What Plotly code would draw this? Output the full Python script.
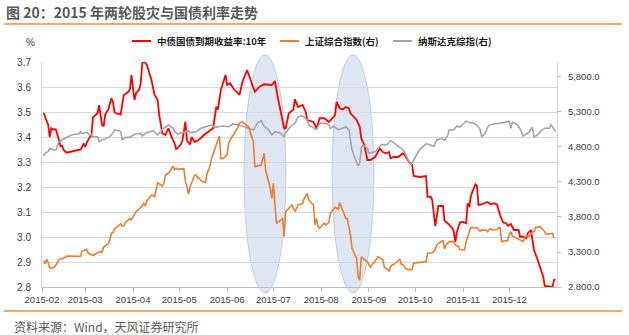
import plotly.graph_objects as go

# ---------------- data ----------------
red_dates = ["02-02","02-03","02-04","02-05","02-06","02-07","02-08","02-10","02-12","02-13","02-14","02-15","02-17","02-19","02-22","02-26","02-27","02-28",
             "03-01","03-02","03-04","03-05","03-06","03-08","03-09","03-10","03-11","03-12","03-13","03-14","03-16","03-17","03-18","03-19","03-20","03-21","03-24","03-26","03-29","03-30","03-31",
             "04-01","04-02","04-03","04-05","04-06","04-07","04-08","04-10","04-13","04-15","04-17","04-18","04-20","04-22","04-24","04-26","04-28","04-29",
             "05-02","05-03","05-05","05-06","05-08","05-09","05-11","05-14","05-17","05-20","05-23","05-25","05-26","05-28","05-30","05-31",
             "06-01","06-03","06-05","06-07","06-09","06-11","06-12","06-14","06-17","06-19","06-22","06-25","06-30",
             "07-02","07-04","07-06","07-08","07-09","07-11","07-14","07-15","07-17","07-20","07-22","07-23","07-27","07-29","07-31",
             "08-03","08-06","08-08","08-10","08-11","08-13","08-15","08-17","08-19","08-20","08-24","08-26","08-27","08-29","08-31",
             "09-02","09-05","09-07","09-08","09-10","09-12","09-14","09-15","09-17","09-20","09-22","09-23","09-25","09-27","09-29","09-30",
             "10-04","10-08","10-09","10-11","10-12","10-14","10-16","10-19","10-20","10-22","10-25","10-26","10-27","10-28","10-30",
             "11-01","11-03","11-04","11-05","11-06","11-07","11-09","11-10","11-11","11-13","11-15","11-17","11-19","11-21","11-23","11-25","11-27","11-29","11-30",
             "12-02","12-04","12-07","12-08","12-10","12-12","12-13","12-15","12-16","12-17","12-19","12-21","12-23","12-24","12-27","12-29","12-30","12-31"]
red_vals = [3.497,3.48,3.46,3.448,3.40,3.435,3.43,3.43,3.388,3.364,3.365,3.348,3.337,3.34,3.342,3.35,3.36,3.375,
            3.36,3.377,3.40,3.405,3.478,3.49,3.495,3.527,3.476,3.447,3.445,3.49,3.51,3.535,3.555,3.54,3.50,3.495,3.49,3.568,3.581,3.59,3.648,
            3.595,3.548,3.575,3.59,3.615,3.695,3.704,3.688,3.628,3.568,3.548,3.488,3.415,3.408,3.435,3.40,3.375,3.35,
            3.37,3.385,3.461,3.385,3.37,3.40,3.38,3.39,3.408,3.421,3.435,3.521,3.51,3.588,3.628,3.648,
            3.608,3.615,3.595,3.58,3.568,3.621,3.635,3.668,3.615,3.581,3.601,3.611,3.608,
            3.624,3.555,3.501,3.435,3.435,3.495,3.51,3.551,3.52,3.528,3.50,3.468,3.46,3.435,3.475,
            3.475,3.46,3.475,3.488,3.541,3.515,3.51,3.52,3.515,3.495,3.468,3.441,3.395,3.368,3.308,
            3.308,3.32,3.341,3.355,3.34,3.335,3.34,3.315,3.32,3.32,3.33,3.335,3.32,3.30,3.288,3.244,
            3.24,3.244,3.161,3.161,3.148,3.044,3.124,3.124,3.065,3.055,3.035,3.021,2.981,3.02,3.059,
            3.06,3.055,3.135,3.12,3.161,3.18,3.211,3.205,3.128,3.13,3.135,3.14,3.13,3.135,3.13,3.088,3.058,3.055,3.045,
            3.052,3.028,3.028,3.001,3.001,2.995,3.015,3.028,2.995,2.948,2.915,2.881,2.841,2.804,2.80,2.80,2.828,2.83]

sse_dates = ["02-02","02-03","02-04","02-05","02-06","02-09","02-10","02-12","02-13","02-16","02-17","02-25","02-26","02-27",
             "03-02","03-03","03-05","03-06","03-09","03-10","03-11","03-12","03-13","03-16","03-17","03-18","03-19","03-20","03-23","03-24","03-25","03-26","03-27","03-30","03-31",
             "04-01","04-02","04-03","04-07","04-08","04-09","04-10","04-13","04-14","04-15","04-16","04-17","04-20","04-21","04-22","04-23","04-24","04-27","04-28","04-29","04-30",
             "05-04","05-05","05-06","05-07","05-08","05-11","05-12","05-13","05-14","05-15","05-18","05-19","05-20","05-21","05-22","05-25","05-26","05-27","05-28","05-29",
             "06-01","06-02","06-03","06-05","06-08","06-09","06-11","06-12","06-15","06-16","06-17","06-18","06-19","06-23","06-24","06-25","06-26","06-29","06-30",
             "07-01","07-02","07-03","07-06","07-07","07-08","07-09","07-10","07-13","07-15","07-17","07-20","07-21","07-23","07-24","07-27","07-28","07-29","07-30","07-31",
             "08-03","08-04","08-06","08-07","08-10","08-12","08-13","08-17","08-18","08-19","08-20","08-21","08-24","08-25","08-26","08-27","08-28","08-31",
             "09-02","09-07","09-09","09-10","09-11","09-14","09-15","09-16","09-17","09-18","09-21","09-22","09-23","09-24","09-25","09-28","09-29","09-30",
             "10-08","10-09","10-12","10-13","10-14","10-15","10-16","10-19","10-20","10-21","10-22","10-23","10-26","10-27","10-28","10-29","10-30",
             "11-02","11-03","11-04","11-05","11-06","11-09","11-10","11-11","11-12","11-13","11-16","11-17","11-18","11-19","11-20","11-23","11-24","11-25","11-26","11-27","11-30",
             "12-01","12-02","12-03","12-04","12-07","12-08","12-09","12-10","12-11","12-14","12-15","12-16","12-17","12-18","12-21","12-22","12-23","12-24","12-25","12-28","12-29","12-30","12-31"]
sse_vals = [3176,3129,3195,3153,3067,3081,3114,3190,3200,3220,3243,3233,3240,3314,
            3338,3281,3257,3250,3290,3300,3305,3300,3370,3420,3471,3570,3580,3630,3686,3700,3671,3671,3719,3781,3760,
            3800,3830,3876,3957,3995,3957,4033,4114,4110,4090,4200,4290,4243,4281,4400,4414,4424,4529,4476,4495,4481,
            4490,4305,4230,4129,4233,4400,4400,4353,4353,4319,4290,4420,4471,4530,4640,4820,4910,4957,4638,4630,
            4686,4853,4900,4971,5081,5138,5162,5138,5090,5019,4948,4876,4519,4543,4614,4710,4471,4210,4067,
            4281,3995,3710,3757,3781,3519,3876,3900,3971,3876,3971,3995,4067,4138,4043,3971,3686,3781,3662,
            3638,3710,3686,3720,3852,3938,3910,4005,3781,3776,3650,3543,3352,3210,2947,2900,3233,3210,
            3160,3081,3233,3200,3190,3080,3029,3090,3114,3120,3138,3195,3124,3120,3090,3060,3043,3050,
            3140,3162,3281,3290,3305,3338,3400,3424,3460,3345,3400,3430,3448,3448,3400,3390,3380,
            3335,3329,3448,3520,3600,3650,3645,3650,3625,3595,3615,3610,3590,3625,3630,3615,3620,3645,3645,3448,3455,
            3465,3552,3590,3530,3519,3475,3471,3455,3448,3519,3530,3552,3590,3590,3650,3662,3640,3610,3590,3552,3570,3567,3495]

ndq_dates = ["02-02","02-03","02-05","02-06","02-09","02-10","02-12","02-16","02-18","02-19","02-20","02-23","02-25","02-26","02-27",
             "03-02","03-04","03-05","03-06","03-09","03-10","03-12","03-13","03-16","03-17","03-19","03-20","03-23","03-24","03-25","03-27","03-30","03-31",
             "04-01","04-03","04-06","04-07","04-10","04-14","04-16","04-17","04-20","04-22","04-24","04-27","04-28","04-30",
             "05-04","05-07","05-08","05-12","05-15","05-19","05-22","05-24","05-26","05-29",
             "06-02","06-05","06-08","06-11","06-15","06-18","06-21","06-23","06-25","06-28","06-30",
             "07-02","07-05","07-08","07-09","07-13","07-15","07-17","07-20","07-23","07-24","07-27","07-29","07-31",
             "08-04","08-06","08-07","08-09","08-12","08-15","08-17","08-19","08-20","08-21","08-23","08-25","08-26","08-27","08-28","08-31",
             "09-01","09-05","09-07","09-09","09-11","09-13","09-15","09-17","09-20","09-22","09-24","09-26","09-28","09-30",
             "10-02","10-04","10-06","10-08","10-11","10-13","10-15","10-18","10-20","10-22","10-23","10-26","10-28","10-30",
             "11-01","11-03","11-05","11-07","11-10","11-12","11-13","11-15","11-17","11-18","11-21","11-25","11-27",
             "12-01","12-02","12-03","12-06","12-08","12-10","12-12","12-14","12-16","12-17","12-19","12-22","12-24","12-27","12-28","12-29","12-31"]
ndq_vals = [4671,4710,4733,4781,4757,4757,4876,4920,4940,4957,4971,4986,4986,5019,4990,
            5010,4965,4980,4948,4945,4876,4900,4910,4930,4948,5000,5043,5033,5019,4900,4938,4938,4960,
            4971,4985,4995,4957,5005,5033,4995,4971,5053,5090,5114,5067,5019,4986,
            5019,5033,5005,5019,5067,5100,5114,5081,5090,5100,
            5090,5129,5114,5100,5067,5043,5148,5176,5100,5043,4971,
            5019,5005,4948,5005,5114,5138,5233,5243,5186,5114,5081,5048,5138,
            5138,5114,5067,5100,5048,5067,5090,5043,4900,4757,4638,4529,4571,4781,4829,4781,
            4710,4733,4781,4838,4829,4838,4890,4862,4805,4781,4733,4638,4543,4614,
            4700,4767,4805,4845,4829,4805,4900,4924,4895,4957,5043,5048,5100,5081,
            5129,5170,5150,5148,5114,5055,4948,4983,5081,5114,5129,5138,5148,
            5165,5067,5155,5120,5060,4957,4985,5019,5081,4943,4971,5040,5067,5067,5114,5090,5019]

red_x = ["2015-" + d for d in red_dates]
sse_x = ["2015-" + d for d in sse_dates]
ndq_x = ["2015-" + d for d in ndq_dates]

name_red = "中债国债到期收益率:10年"
name_sse = "上证综合指数(右)"
name_ndq = "纳斯达克综指(右)"
title_text = "图 20：2015 年两轮股灾与国债利率走势"
source_text = "资料来源：Wind，天风证券研究所"

C_RED = "#FF0000"
C_ORA = "#ED7D31"
C_GRY = "#A5A5A5"
NUMFONT = "Liberation Sans, Arial, Noto Sans CJK SC"
CJK = "Noto Sans CJK SC, Liberation Sans"

fig = go.Figure()
fig.add_trace(go.Scatter(x=ndq_x, y=ndq_vals, name=name_ndq, yaxis="y2", mode="lines",
                         line=dict(color=C_GRY, width=1.6)))
fig.add_trace(go.Scatter(x=sse_x, y=sse_vals, name=name_sse, yaxis="y2", mode="lines",
                         line=dict(color=C_ORA, width=1.6)))
fig.add_trace(go.Scatter(x=red_x, y=red_vals, name=name_red, yaxis="y", mode="lines",
                         line=dict(color=C_RED, width=1.8)))

W, H = 629, 335
L, R, T, B = 42, 72, 62, 48
pw, ph = W - L - R, H - T - B

def px(x):
    return (x - L) / pw

def py(y):
    return (H - B - y) / ph

shapes = []
# two highlight ellipses
for x0, x1 in [(244, 286), (332, 374)]:
    shapes.append(dict(type="circle", xref="paper", yref="paper",
                       x0=px(x0), x1=px(x1), y0=py(293), y1=py(55),
                       fillcolor="rgba(180,200,225,0.45)",
                       line=dict(color="rgba(160,185,215,0.6)", width=1), layer="between"))
# header / footer rules
for yy in (24, 311):
    shapes.append(dict(type="line", xref="paper", yref="paper", x0=px(4), x1=px(622),
                       y0=py(yy), y1=py(yy), line=dict(color="#F08A3C", width=1.5)))
# legend line samples
for (a, b, c) in [(132, 151, C_RED), (280, 299, C_ORA), (393, 412, C_GRY)]:
    shapes.append(dict(type="line", xref="paper", yref="paper", x0=px(a), x1=px(b),
                       y0=py(41), y1=py(41), line=dict(color=c, width=2)))

annotations = [
    dict(text=title_text, x=px(4), y=py(12), xref="paper", yref="paper", xanchor="left",
         yanchor="middle", showarrow=False, font=dict(family=CJK, size=14, color="#595959", weight="bold")),
    dict(text="%", x=px(30), y=py(43), xref="paper", yref="paper", xanchor="center",
         yanchor="middle", showarrow=False, font=dict(family=NUMFONT, size=10, color="#404040")),
    dict(text=name_red, x=px(155), y=py(41), xref="paper", yref="paper", xanchor="left",
         yanchor="middle", showarrow=False, font=dict(family=CJK, size=9.5, color="#1a1a1a", weight="bold")),
    dict(text=name_sse, x=px(303), y=py(41), xref="paper", yref="paper", xanchor="left",
         yanchor="middle", showarrow=False, font=dict(family=CJK, size=9.5, color="#1a1a1a", weight="bold")),
    dict(text=name_ndq, x=px(416), y=py(41), xref="paper", yref="paper", xanchor="left",
         yanchor="middle", showarrow=False, font=dict(family=CJK, size=9.5, color="#1a1a1a", weight="bold")),
    dict(text=source_text, x=px(12), y=py(326), xref="paper", yref="paper", xanchor="left",
         yanchor="middle", showarrow=False, font=dict(family=CJK, size=12, color="#595959")),
]

fig.update_layout(
    width=W, height=H, margin=dict(l=L, r=R, t=T, b=B, pad=0),
    paper_bgcolor="white", plot_bgcolor="white", showlegend=False,
    shapes=shapes, annotations=annotations,
    xaxis=dict(type="date", range=["2015-02-01", "2015-12-31 22:00"], tick0="2015-02-01", dtick="M1",
               tickformat="%Y-%m", showgrid=False, showline=True, linecolor="#BFBFBF", linewidth=1,
               ticks="outside", ticklen=4, tickcolor="#BFBFBF",
               tickfont=dict(family=NUMFONT, size=9.5, color="#404040"), zeroline=False),
    yaxis=dict(range=[2.8, 3.7], dtick=0.1, tick0=2.8, tickformat=".1f", showgrid=True,
               gridcolor="#D9D9D9", gridwidth=1, showline=True, linecolor="#D9D9D9",
               ticks="", ticklabelstandoff=8, zeroline=False,
               tickfont=dict(family=NUMFONT, size=10, color="#404040")),
    yaxis2=dict(range=[2800, 6014], dtick=500, tick0=2800, tickformat=",.1f", overlaying="y",
                side="right", showgrid=False, showline=True, linecolor="#D9D9D9",
                ticks="outside", ticklen=3, tickcolor="#BFBFBF", ticklabelstandoff=5, zeroline=False,
                tickfont=dict(family=NUMFONT, size=9.5, color="#404040")),
)

fig.write_html("out.html")
